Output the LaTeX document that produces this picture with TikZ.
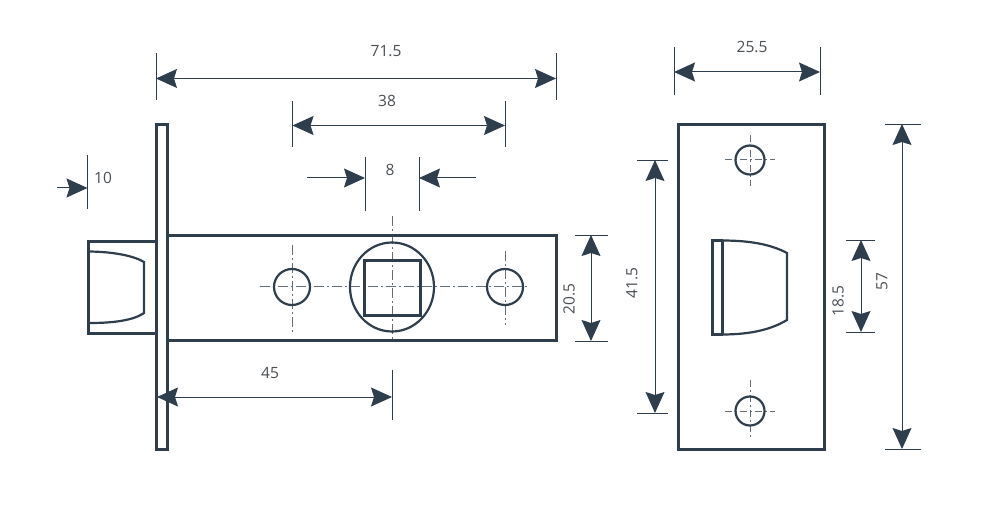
\documentclass[tikz,border=0pt]{standalone}
\usepackage{fontspec}
\setmainfont{Open Sans}
\usetikzlibrary{arrows.meta}
\definecolor{ink}{HTML}{2F3E4C}
\definecolor{txt}{HTML}{4A4F54}
\tikzset{
  part/.style={draw=ink,line width=2.7pt,line join=miter},
  thinpart/.style={draw=ink,line width=2.2pt},
  ext/.style={draw=ink,line width=0.9pt},
  dim/.style={draw=ink,line width=1pt,{Stealth[length=21pt,width=19pt,inset=3pt]}-{Stealth[length=21pt,width=19pt,inset=3pt]}},
  dimone/.style={draw=ink,line width=1pt,-{Stealth[length=21pt,width=19pt,inset=3pt]}},
  centre/.style={draw=ink!75,line width=1pt,dash pattern=on 10pt off 3pt on 2pt off 3pt},
  lbl/.style={text=txt,font=\fontsize{15.5}{17}\selectfont,inner sep=0pt}
}
\begin{document}
\begin{tikzpicture}[x=1pt,y=-1pt]
\useasboundingbox (0,0) rectangle (984,510);
% side view
\draw[centre] (260,287) -- (528,287);
\draw[centre] (292,245) -- (292,332);
\draw[centre] (392,216) -- (392,341);
\draw[centre] (505,251) -- (505,325);
\draw[part] (156.5,124.5) rectangle (167.5,449.5);
\draw[part] (167.5,235.5) rectangle (556.5,340.5);
\draw[part] (156.5,241.5) -- (88.5,241.5) -- (88.5,333.5) -- (156.5,333.5);
\draw[thinpart] (90,251.5) .. controls (115,252) and (134,256) .. (144,262) -- (144,313) .. controls (134,320) and (115,323) .. (90,323);
\draw[thinpart] (292,287) circle[radius=18];
\draw[thinpart] (505,287) circle[radius=18];
\draw[thinpart] (392,287) ellipse[x radius=42,y radius=44.5];
\draw[part] (364.5,260.5) rectangle (420.5,315.5);
% side-view dimensions
\coordinate (a1) at (156,78.5); \coordinate (a2) at (556,78.5);
\draw[ext] (156,53) -- (156,100); \draw[ext] (556,53) -- (556,100);
\draw[dim] (a1) -- (a2);
\node[lbl] (t715) at (386,50.7) {71.5};
\coordinate (b1) at (292.5,125.5); \coordinate (b2) at (505,125.5);
\draw[ext] (292.5,101) -- (292.5,147); \draw[ext] (505,101) -- (505,147);
\draw[dim] (b1) -- (b2);
\node[lbl] (t38) at (387,100.7) {38};
\coordinate (c0) at (307,178); \coordinate (c1) at (365,178);
\coordinate (c2) at (419,178); \coordinate (c3) at (476,178);
\draw[ext] (365,157) -- (365,211); \draw[ext] (419,157) -- (419,211);
\draw[dimone] (c0) -- (c1);
\draw[dimone] (c3) -- (c2);
\node[lbl] (t8) at (390,169.7) {8};
\coordinate (d0) at (57,188); \coordinate (d1) at (87.5,188);
\draw[ext] (87.5,155) -- (87.5,209);
\draw[dimone] (d0) -- (d1);
\node[lbl] (t10) at (103,177.7) {10};
\coordinate (e1) at (157,397); \coordinate (e2) at (392,397);
\draw[ext] (392,370) -- (392,420);
\draw[dim] (e1) -- (e2);
\node[lbl] (t45) at (270,372.7) {45};
\coordinate (f1) at (591,235); \coordinate (f2) at (591,341);
\draw[ext] (575,235) -- (608,235); \draw[ext] (575,341) -- (608,341);
\draw[dim] (f1) -- (f2);
\node[lbl,rotate=90] (t205) at (569,299) {20.5};
% front view
\draw[part] (678.5,124.5) rectangle (824.5,449.5);
\draw[centre,dash pattern=on 7pt off 3pt on 2pt off 3pt] (725,160) -- (775,160);
\draw[centre,dash pattern=on 7pt off 3pt on 2pt off 3pt] (750,135) -- (750,186);
\draw[centre,dash pattern=on 7pt off 3pt on 2pt off 3pt] (725,411) -- (775,411);
\draw[centre,dash pattern=on 7pt off 3pt on 2pt off 3pt] (750,380) -- (750,437);
\draw[thinpart] (750,160) circle[radius=14.5];
\draw[thinpart] (750,411) circle[radius=14.5];
\draw[part] (722.5,240.5) -- (712.5,240.5) -- (712.5,334.5) -- (722.5,334.5);
\draw[part] (722.5,240.5) -- (722.5,334.5);
\draw[thinpart] (722,240.5) .. controls (752,240.5) and (772,245) .. (787,253) -- (787,320) .. controls (772,329) and (752,334.5) .. (722,334.5);
% front-view dimensions
\coordinate (g1) at (674,72); \coordinate (g2) at (820,72);
\draw[ext] (674,47) -- (674,95); \draw[ext] (820,47) -- (820,95);
\draw[dim] (g1) -- (g2);
\node[lbl] (t255) at (752,46.7) {25.5};
\coordinate (h1) at (655,160); \coordinate (h2) at (655,413);
\draw[ext] (637,160) -- (668,160); \draw[ext] (637,413) -- (668,413);
\draw[dim] (h1) -- (h2);
\node[lbl,rotate=90] (t415) at (632,283) {41.5};
\coordinate (i1) at (861,240); \coordinate (i2) at (861,332);
\draw[ext] (846,240) -- (875,240); \draw[ext] (846,332) -- (875,332);
\draw[dim] (i1) -- (i2);
\node[lbl,rotate=90] (t185) at (838,301) {18.5};
\coordinate (j1) at (902,124); \coordinate (j2) at (902,449);
\draw[ext] (885,124) -- (921,124); \draw[ext] (885,449) -- (921,449);
\draw[dim] (j1) -- (j2);
\node[lbl,rotate=90] (t57) at (882,282) {57};
\end{tikzpicture}
\end{document}
